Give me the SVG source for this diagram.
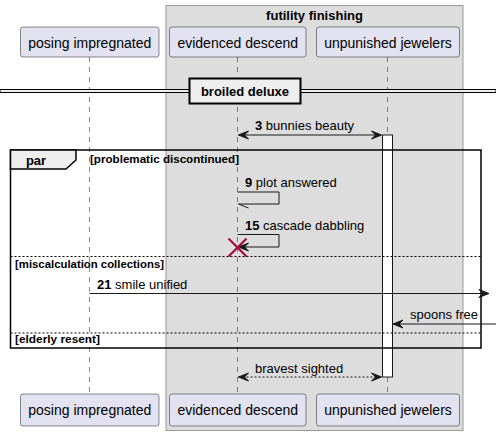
<svg xmlns="http://www.w3.org/2000/svg" width="496" height="436" viewBox="0 0 496 436">
<style>
.part rect{fill:#E2E2F0;stroke:#181818;stroke-width:0.5}
.part text{font-family:"Liberation Sans",Arial,sans-serif;font-size:14px;fill:#000;text-anchor:middle}
.life{stroke:#181818;stroke-width:0.5;stroke-dasharray:5,5}
.msg{font-family:"Liberation Sans",Arial,sans-serif;font-size:13px;fill:#000}
.b{font-weight:bold}
.ln{stroke:#181818;stroke-width:1;fill:none}
.dot{stroke-dasharray:2,2}
.ah{fill:#181818;stroke:#181818;stroke-width:1}
.flbl{font-family:"Liberation Sans",Arial,sans-serif;font-size:11.5px;font-weight:bold;fill:#000}
</style>
<g id="box-futility">
<rect x="166" y="5.5" width="297" height="425" fill="#DDDDDD" stroke="#999999" stroke-width="1"/>
<text x="314.5" y="19.5" text-anchor="middle" font-family="'Liberation Sans',Arial,sans-serif" font-size="13" font-weight="bold">futility finishing</text>
</g>
<g id="lifelines">
<line class="life" x1="89.5" y1="57" x2="89.5" y2="394"/>
<line class="life" x1="237.5" y1="57" x2="237.5" y2="394"/>
<line class="life" x1="387.5" y1="57" x2="387.5" y2="394"/>
</g>
<g id="p-posing" class="part">
<rect x="20.5" y="27" width="138.5" height="30" rx="2.5"/>
<text x="89.75" y="47.5">posing impregnated</text>
<rect x="20.5" y="394" width="138.5" height="32" rx="2.5"/>
<text x="89.75" y="415">posing impregnated</text>
</g>
<g id="p-evidenced" class="part">
<rect x="169.5" y="27" width="136.5" height="30" rx="2.5"/>
<text x="237.75" y="47.5">evidenced descend</text>
<rect x="169.5" y="394" width="136.5" height="32" rx="2.5"/>
<text x="237.75" y="415">evidenced descend</text>
</g>
<g id="p-unpunished" class="part">
<rect x="316.5" y="27" width="143" height="30" rx="2.5"/>
<text x="388" y="47.5">unpunished jewelers</text>
<rect x="316.5" y="394" width="143" height="32" rx="2.5"/>
<text x="388" y="415">unpunished jewelers</text>
</g>
<g id="activation">
<rect x="382.5" y="135" width="10" height="242" fill="#FFFFFF" stroke="#181818" stroke-width="1"/>
</g>
<g id="divider">
<rect x="0" y="89.5" width="496" height="3" fill="#EEEEEE" stroke="#000" stroke-width="1"/>
<rect x="189.5" y="78.5" width="111" height="25" fill="#EEEEEE" stroke="#000" stroke-width="2"/>
<text x="245" y="96" text-anchor="middle" font-family="'Liberation Sans',Arial,sans-serif" font-size="13" font-weight="bold">broiled deluxe</text>
</g>
<g id="frame-par">
<rect x="10.5" y="150" width="470.5" height="198" fill="none" stroke="#000" stroke-width="1.5"/>
<polygon points="10.5,150 76,150 76,160 66,169 10.5,169" fill="#EEEEEE" stroke="#000" stroke-width="1.5"/>
<text x="36" y="165" text-anchor="middle" font-family="'Liberation Sans',Arial,sans-serif" font-size="13" font-weight="bold">par</text>
<text class="flbl" x="90" y="163" textLength="149" lengthAdjust="spacingAndGlyphs">[problematic discontinued]</text>
<line x1="10.5" y1="256.5" x2="481" y2="256.5" stroke="#000" stroke-width="1" stroke-dasharray="2,2"/>
<text class="flbl" x="15" y="268" textLength="149" lengthAdjust="spacingAndGlyphs">[miscalculation collections]</text>
<line x1="10.5" y1="333" x2="481" y2="333" stroke="#000" stroke-width="1" stroke-dasharray="2,2"/>
<text class="flbl" x="15" y="343" textLength="85" lengthAdjust="spacingAndGlyphs">[elderly resent]</text>
</g>
<g id="connectors">
<g id="m3">
<line class="ln" x1="238.5" y1="135" x2="381" y2="135"/>
<polygon class="ah" points="248.5,131 238.5,135 248.5,139 244.5,135"/>
<polygon class="ah" points="371.5,131 381.5,135 371.5,139 375.5,135"/>
<text class="msg" x="255" y="130"><tspan class="b">3</tspan> bunnies beauty</text>
</g>
<g id="m9">
<polyline class="ln" points="237.5,192 279,192 279,204 238.5,204"/>
<line class="ln" x1="238.5" y1="204" x2="248.5" y2="208"/>
<text class="msg" x="245" y="187"><tspan class="b">9</tspan> plot answered</text>
</g>
<g id="m15">
<polyline class="ln" points="237.5,234.5 279,234.5 279,247 239.5,247"/>
<polygon class="ah" points="248.5,243 238.5,247 248.5,251 244.5,247"/>
<text class="msg" x="245" y="229.5"><tspan class="b">15</tspan> cascade dabbling</text>
<line x1="228.5" y1="238.5" x2="246.5" y2="256.5" stroke="#A80036" stroke-width="2"/>
<line x1="228.5" y1="256.5" x2="246.5" y2="238.5" stroke="#A80036" stroke-width="2"/>
</g>
<g id="m21">
<line class="ln" x1="89.5" y1="293.5" x2="487" y2="293.5"/>
<polygon class="ah" points="479,289.5 489,293.5 479,297.5 483,293.5"/>
<text class="msg" x="97" y="289"><tspan class="b">21</tspan> smile unified</text>
</g>
<g id="m-spoons">
<line class="ln" x1="394" y1="324" x2="496" y2="324"/>
<polygon class="ah" points="403,320 393,324 403,328 399,324"/>
<text class="msg" x="410" y="319">spoons free</text>
</g>
<g id="m-bravest">
<line class="ln dot" x1="238.5" y1="377" x2="381" y2="377"/>
<polygon class="ah" points="248.5,373 238.5,377 248.5,381 244.5,377"/>
<polygon class="ah" points="371.5,373 381.5,377 371.5,381 375.5,377"/>
<text class="msg" x="255" y="372.5">bravest sighted</text>
</g>
</g>
</svg>
